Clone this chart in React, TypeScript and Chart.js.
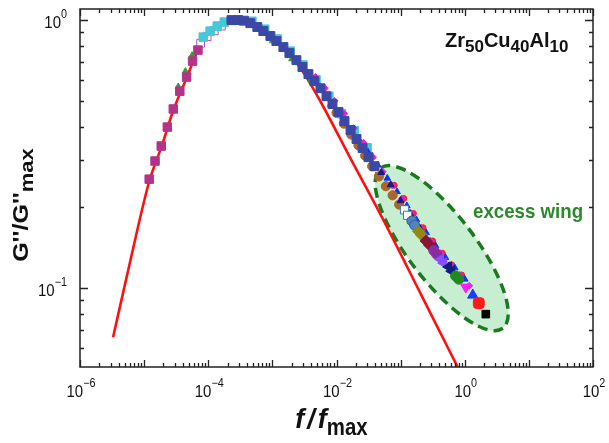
import React, { useEffect, useRef } from 'react';
import { Chart, registerables } from 'chart.js';

Chart.register(...registerables);

// ---------- data ----------
const xTickExps = [-6, -4, -2, 0, 2];
const yTickExps = [-1, 0];

const redLineX = [3.28e-6, 6.27e-6, 1.2e-5, 1.85e-5, 2.85e-5, 4.6e-5, 6.9e-5, 1.07e-4, 1.54e-4, 2.21e-4, 3.16e-4, 5.4e-4, 9.3e-4, 1.6e-3, 2.74e-3, 5.62e-3, 1.66e-2, 5.42e-2, 0.205, 0.778, 1.24];
const redLineY = [0.0656, 0.1305, 0.25, 0.335, 0.46, 0.608, 0.77, 0.894, 0.966, 1.0, 0.993, 0.948, 0.868, 0.772, 0.662, 0.497, 0.304, 0.179, 0.0954, 0.0507, 0.0406];

const magentaSqX = [1.2e-5, 1.48e-5, 1.85e-5, 2.3e-5, 2.85e-5, 3.6e-5, 4.6e-5, 5.7e-5, 6.9e-5];
const magentaSqY = [0.255, 0.298, 0.339, 0.399, 0.466, 0.543, 0.613, 0.703, 0.773];

const greenRiseX = [3.4e-5, 4.4e-5, 5.6e-5];
const greenRiseY = [0.565, 0.645, 0.74];

const openSqX = [7.6e-5, 9.6e-5, 1.24e-4, 1.6e-4];
const openSqY = [0.82, 0.868, 0.912, 0.95];

const cyanSqX = [8.36e-5, 1.07e-4, 1.38e-4, 1.78e-4, 3.0e-4, 4.8e-4, 7.6e-4, 1.2e-3, 1.9e-3, 3.0e-3, 4.8e-3, 7.6e-3, 1.2e-2, 1.9e-2, 3.0e-2];
const cyanSqY = [0.864, 0.91, 0.95, 0.983, 1.0, 0.99, 0.925, 0.85, 0.766, 0.68, 0.598, 0.52, 0.447, 0.387, 0.334];

const blueSqX = [2.3e-4, 2.9e-4, 3.6e-4, 4.53e-4, 5.83e-4, 7.23e-4, 9.31e-4, 1.155e-3, 1.486e-3, 1.843e-3, 2.371e-3, 2.942e-3, 3.652e-3, 4.53e-3, 5.62e-3, 6.98e-3, 8.66e-3, 1.074e-2, 1.334e-2, 1.655e-2, 2.054e-2, 2.55e-2, 3.16e-2, 3.92e-2];
const blueSqY = [1.0, 1.0, 0.995, 0.974, 0.942, 0.91, 0.872, 0.835, 0.793, 0.753, 0.709, 0.668, 0.629, 0.592, 0.557, 0.52, 0.486, 0.454, 0.42, 0.389, 0.36, 0.333, 0.308, 0.285];

const greenMidX = [1.0e-3, 2.0e-3, 4.0e-3, 8.0e-3, 1.6e-2];
const greenMidY = [0.836, 0.716, 0.596, 0.484, 0.383];

const brownCircX = [1.0e-2, 1.3e-2, 1.7e-2, 2.2e-2, 2.8e-2, 3.6e-2, 4.6e-2, 5.9e-2, 7.5e-2, 9.5e-2];
const brownCircY = [0.451, 0.411, 0.374, 0.341, 0.312, 0.285, 0.261, 0.24, 0.222, 0.205];

const magentaSmallX = [4.68e-3, 6.6e-3, 9.3e-3, 1.32e-2, 1.86e-2, 2.63e-2, 3.72e-2, 5.25e-2, 7.4e-2, 0.105, 0.148, 0.209, 0.295, 0.417, 0.589, 0.832, 1.175];
const magentaSmallY = [0.614, 0.557, 0.5, 0.447, 0.395, 0.349, 0.308, 0.272, 0.242, 0.216, 0.19, 0.168, 0.15, 0.135, 0.122, 0.112, 0.102];

const blueSmallX = [2.2e-2, 3.1e-2, 4.4e-2, 6.2e-2, 8.8e-2, 0.125, 0.176, 0.25, 0.35, 0.5, 0.7, 1.0];
const blueSmallY = [0.36, 0.322, 0.288, 0.257, 0.229, 0.203, 0.18, 0.161, 0.144, 0.13, 0.119, 0.108];

const redSmallX = [0.0794, 0.112, 0.158, 0.224, 0.316, 0.447, 0.631, 0.891];
const redSmallY = [0.242, 0.216, 0.19, 0.168, 0.15, 0.135, 0.122, 0.112];

const navySmallX = [0.05, 0.07, 0.1, 0.14, 0.2, 0.28, 0.4, 0.56, 0.8];
const navySmallY = [0.27, 0.243, 0.212, 0.19, 0.167, 0.149, 0.134, 0.121, 0.11];

const whiteSqX = [0.115, 0.1286];
const whiteSqY = [0.196, 0.187];
const steelCircX = [0.15, 0.1655];
const steelCircY = [0.178, 0.1718];
const oliveX = [0.19, 0.2129];
const oliveY = [0.163, 0.1577];
const darkRedX = [0.25, 0.2838];
const darkRedY = [0.15, 0.1447];
const purpleCircX = [0.33, 0.3651];
const purpleCircY = [0.138, 0.1339];
const violetTriX = [0.42, 0.4697];
const violetTriY = [0.128, 0.124];
const navyTriX = [0.56, 0.6263];
const navyTriY = [0.12, 0.1157];
const greenCircX = [0.72, 0.8058];
const greenCircY = [0.111, 0.108];
const magentaTriX = [1.037];
const magentaTriY = [0.1009];
const blueTriX = [1.334];
const blueTriY = [0.0942];
const redSqX = [1.655];
const redSqY = [0.0879];
const blackSqX = [2.129];
const blackSqY = [0.08];

// excess-wing ellipse: ends of the long axis (data coords) and short/long ratio
const wingEllipseEnds = [[0.0487, 0.2805], [3.92, 0.0709]];
const wingEllipseRatio = 0.33;

// ---------- helpers ----------
const FONT = '"Liberation Sans", Arial, sans-serif';
const pts = (xs: number[], ys: number[]) => xs.map((x, i) => ({ x, y: ys[i] }));

type Part = { t: string; f: string; dy?: number; sx?: number; gap?: number };
function drawParts(ctx: CanvasRenderingContext2D, parts: Part[], x: number, y: number, align: string, color: string) {
  const widths = parts.map(p => {
    ctx.font = p.f;
    return ctx.measureText(p.t).width * (p.sx ?? 1) + (p.gap ?? 0);
  });
  const total = widths.reduce((a, b) => a + b, 0);
  let cx = align === 'center' ? x - total / 2 : align === 'right' ? x - total : x;
  ctx.fillStyle = color;
  ctx.textBaseline = 'alphabetic';
  ctx.textAlign = 'left';
  parts.forEach((p, i) => {
    ctx.save();
    ctx.translate(cx, y + (p.dy ?? 0));
    ctx.scale(p.sx ?? 1, 1);
    ctx.font = p.f;
    ctx.fillText(p.t, 0, 0);
    ctx.restore();
    cx += widths[i];
  });
}

const supText = (e: number) => (e < 0 ? '\u2212' + Math.abs(e) : String(e));

const decorPlugin = {
  id: 'decor',
  beforeDatasetsDraw(chart: any) {
    const { ctx, chartArea: ca } = chart;
    const xs = chart.scales.x;
    const ys = chart.scales.y;
    const x1 = xs.getPixelForValue(wingEllipseEnds[0][0]);
    const y1 = ys.getPixelForValue(wingEllipseEnds[0][1]);
    const x2 = xs.getPixelForValue(wingEllipseEnds[1][0]);
    const y2 = ys.getPixelForValue(wingEllipseEnds[1][1]);
    const cx = (x1 + x2) / 2;
    const cy = (y1 + y2) / 2;
    const a = Math.hypot(x2 - x1, y2 - y1) / 2;
    const b = a * wingEllipseRatio;
    const ang = Math.atan2(y2 - y1, x2 - x1);
    ctx.save();
    ctx.beginPath();
    ctx.rect(ca.left, ca.top, ca.right - ca.left, ca.bottom - ca.top);
    ctx.clip();
    ctx.beginPath();
    ctx.ellipse(cx, cy, a, b, ang, 0, Math.PI * 2);
    ctx.fillStyle = '#c8eed2';
    ctx.fill();
    ctx.setLineDash([10, 6]);
    ctx.lineWidth = 3.5;
    ctx.strokeStyle = '#1b7a1f';
    ctx.stroke();
    ctx.restore();
  },
  afterDatasetsDraw(chart: any) {
    const { ctx, chartArea: ca } = chart;
    const xs = chart.scales.x;
    const ys = chart.scales.y;
    ctx.save();
    ctx.strokeStyle = '#222';
    ctx.lineWidth = 1.5;
    ctx.setLineDash([]);
    ctx.strokeRect(ca.left, ca.top, ca.right - ca.left, ca.bottom - ca.top);
    ctx.lineWidth = 1.3;
    // x ticks
    for (let e = -6; e <= 2; e++) {
      for (let m = 1; m <= 9; m++) {
        const v = m * Math.pow(10, e);
        if (v < xs.min * 0.999 || v > xs.max * 1.001) continue;
        const px = Math.round(xs.getPixelForValue(v)) + 0.5;
        const L = m === 1 ? 7 : 4;
        ctx.beginPath();
        ctx.moveTo(px, ca.bottom);
        ctx.lineTo(px, ca.bottom - L);
        ctx.moveTo(px, ca.top);
        ctx.lineTo(px, ca.top + L);
        ctx.stroke();
      }
    }
    // y ticks
    for (let e = -2; e <= 0; e++) {
      for (let m = 1; m <= 9; m++) {
        const v = m * Math.pow(10, e);
        if (v < ys.min * 1.001 || v > ys.max * 0.999) continue;
        const py = Math.round(ys.getPixelForValue(v)) + 0.5;
        const L = m === 1 ? 8 : 4;
        ctx.beginPath();
        ctx.moveTo(ca.left, py);
        ctx.lineTo(ca.left + L, py);
        ctx.moveTo(ca.right, py);
        ctx.lineTo(ca.right - L, py);
        ctx.stroke();
      }
    }
    // tick labels
    xTickExps.forEach(e => {
      const px = xs.getPixelForValue(Math.pow(10, e));
      drawParts(ctx, [
        { t: '10', f: `17px ${FONT}`, sx: 0.88 },
        { t: supText(e), f: `12px ${FONT}`, dy: -10, sx: 0.9 },
      ], px + 1, ca.bottom + 30, 'center', '#111');
    });
    yTickExps.forEach(e => {
      const py = ys.getPixelForValue(Math.pow(10, e));
      drawParts(ctx, [
        { t: '10', f: `17px ${FONT}`, sx: 0.88 },
        { t: supText(e), f: `12px ${FONT}`, dy: -10, sx: 0.9 },
      ], ca.left - 13, py + 8, 'right', '#111');
    });
    // x title
    drawParts(ctx, [
      { t: 'f', f: `italic bold 27px ${FONT}`, gap: 3 },
      { t: '/', f: `italic bold 27px ${FONT}`, gap: 3 },
      { t: 'f', f: `italic bold 27px ${FONT}` },
      { t: 'max', f: `bold 24px ${FONT}`, sx: 0.85, dy: 7 },
    ], (ca.left + ca.right) / 2 - 5, 428, 'center', '#111');
    // y title
    ctx.save();
    ctx.translate(28, 205);
    ctx.rotate(-Math.PI / 2);
    ctx.scale(1, 0.85);
    drawParts(ctx, [
      { t: "G''/G''", f: `bold 25px ${FONT}` },
      { t: 'max', f: `bold 22px ${FONT}`, dy: 6 },
    ], 0, 0, 'center', '#111');
    ctx.restore();
    // composition label
    drawParts(ctx, [
      { t: 'Zr', f: `bold 20px ${FONT}` },
      { t: '50', f: `bold 17px ${FONT}`, dy: 5 },
      { t: 'Cu', f: `bold 20px ${FONT}` },
      { t: '40', f: `bold 17px ${FONT}`, dy: 5 },
      { t: 'Al', f: `bold 20px ${FONT}` },
      { t: '10', f: `bold 17px ${FONT}`, dy: 5 },
    ], 445, 47, 'left', '#111');
    // excess wing label
    drawParts(ctx, [{ t: 'excess wing', f: `bold 21px ${FONT}`, sx: 0.89 }], 473, 218, 'left', '#2a8a2a');
    ctx.restore();
  },
};

function sc(xs: number[], ys: number[], style: string, radius: number, fill: string, border: string, order: number, extra: any = {}) {
  return {
    data: pts(xs, ys),
    pointStyle: style,
    pointRadius: radius,
    backgroundColor: fill,
    borderColor: border,
    borderWidth: 1,
    order,
    ...extra,
  };
}

export default function App() {
  const ref = useRef<HTMLCanvasElement>(null);
  useEffect(() => {
    const canvas = ref.current!;
    const chart = new Chart(canvas, {
      type: 'scatter',
      data: {
        datasets: [
          {
            data: pts(redLineX, redLineY),
            showLine: true,
            pointRadius: 0,
            borderColor: '#ff1010',
            borderWidth: 2.6,
            cubicInterpolationMode: 'monotone',
            order: 100,
          } as any,
          sc(greenRiseX, greenRiseY, 'triangle', 3.5, '#2ca02c', '#2ca02c', 40),
          sc(magentaSqX, magentaSqY, 'rect', 6, '#b4338a', '#b4338a', 30),
          sc(openSqX, openSqY, 'rect', 5.5, '#ffffff', '#b050c0', 35),
          sc(cyanSqX, cyanSqY, 'rect', 6, '#45c8d8', '#45c8d8', 32),
          sc(greenMidX, greenMidY, 'triangle', 3.5, '#2ca02c', '#2ca02c', 38),
          sc(brownCircX, brownCircY, 'circle', 4.6, '#a8682a', '#a8682a', 26),
          sc(magentaSmallX, magentaSmallY, 'rectRot', 3.4, '#e020e0', '#e020e0', 28),
          sc(blueSmallX, blueSmallY, 'triangle', 3.8, '#1030ff', '#1030ff', 27),
          sc(redSmallX, redSmallY, 'circle', 3, '#ff2020', '#ff2020', 29),
          sc(navySmallX, navySmallY, 'triangle', 4, '#1a1a80', '#1a1a80', 25),
          sc(blueSqX, blueSqY, 'rect', 6.3, '#3b48a5', '#3b48a5', 20),
          sc(whiteSqX, whiteSqY, 'rect', 5.8, '#ffffff', '#3a78b8', 12),
          sc(steelCircX, steelCircY, 'circle', 5, '#4f84c0', '#2a5f95', 11),
          sc(oliveX, oliveY, 'rectRot', 6, '#8f8a12', '#8f8a12', 10),
          sc(darkRedX, darkRedY, 'rectRot', 6, '#8a1438', '#8a1438', 9),
          sc(purpleCircX, purpleCircY, 'circle', 5, '#8b2ca0', '#8b2ca0', 8),
          sc(violetTriX, violetTriY, 'triangle', 6, '#8b4dff', '#8b4dff', 7, { rotation: -90 }),
          sc(navyTriX, navyTriY, 'triangle', 6, '#101c80', '#101c80', 6, { rotation: -90 }),
          sc(greenCircX, greenCircY, 'circle', 5, '#1f8a1f', '#1f8a1f', 5),
          sc(magentaTriX, magentaTriY, 'triangle', 6, '#ff1cff', '#ff1cff', 4, { rotation: 180 }),
          sc(blueTriX, blueTriY, 'triangle', 6, '#1a3cff', '#1a3cff', 3),
          sc(redSqX, redSqY, 'rectRounded', 6.3, '#ff1a1a', '#ff1a1a', 2),
          sc(blackSqX, blackSqY, 'rect', 5.4, '#000000', '#000000', 1),
        ] as any,
      },
      options: {
        animation: false,
        responsive: false,
        devicePixelRatio: 1,
        layout: { padding: { left: 80, right: 16, top: 9, bottom: 76 } },
        plugins: { legend: { display: false }, tooltip: { enabled: false }, title: { display: false } },
        scales: {
          x: { type: 'logarithmic', min: 1e-6, max: 100, display: false },
          y: { type: 'logarithmic', min: 0.0508, max: 1.1, display: false },
        },
      } as any,
      plugins: [decorPlugin],
    });
    return () => chart.destroy();
  }, []);
  return (
    <div style={{ position: 'absolute', left: 0, top: 0, width: 609, height: 443, background: '#ffffff' }}>
      <canvas ref={ref} width={609} height={443} style={{ display: 'block' }} />
    </div>
  );
}
